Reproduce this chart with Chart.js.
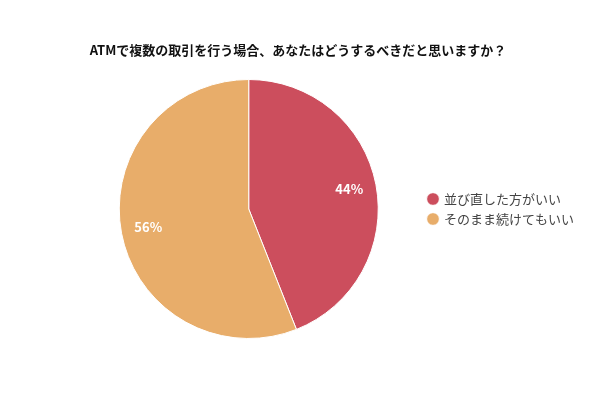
<!DOCTYPE html>
<html><head><meta charset="utf-8">
<script src="https://cdn.jsdelivr.net/npm/chart.js@4"></script>
<style>html,body{margin:0;padding:0;background:#fff}#wrap{width:600px;height:400px}</style>
</head><body><div id="wrap"><canvas id="c" width="600" height="400"></canvas></div>
<script>
const titleText = 'ATMで複数の取引を行う場合、あなたはどうするべきだと思いますか？';
const categories = ['並び直した方がいい', 'そのまま続けてもいい'];
const values = [44, 56];
const colors = ['#CC4E5D', '#E8AD6A'];

const titlePlugin = {
  id: 'canvasTitle',
  afterDraw(chart) {
    const ctx = chart.ctx;
    ctx.save();
    ctx.font = 'bold 13px "Noto Sans CJK JP", sans-serif';
    ctx.fillStyle = '#111111';
    ctx.textAlign = 'center';
    ctx.textBaseline = 'middle';
    ctx.fillText(titleText, chart.width / 2 - 2, 50);
    ctx.restore();
  }
};

const labelPlugin = {
  id: 'pctLabels',
  afterDatasetsDraw(chart) {
    const ctx = chart.ctx;
    const meta = chart.getDatasetMeta(0);
    const total = values.reduce((a, b) => a + b, 0);
    ctx.save();
    ctx.font = 'bold 13px "Noto Sans CJK JP", "Noto Sans", sans-serif';
    ctx.fillStyle = '#ffffff';
    ctx.textAlign = 'center';
    ctx.textBaseline = 'middle';
    meta.data.forEach((arc, i) => {
      const p = arc.getProps(['x','y','startAngle','endAngle','outerRadius'], true);
      const mid = (p.startAngle + p.endAngle) / 2;
      const r = p.outerRadius * 0.79;
      ctx.fillText(Math.round(values[i] / total * 100) + '%', p.x + Math.cos(mid) * r, p.y + Math.sin(mid) * r - 1);
    });
    ctx.restore();
  }
};

new Chart(document.getElementById('c'), {
  type: 'pie',
  data: { labels: categories, datasets: [{ data: values, backgroundColor: colors, borderColor: '#ffffff', borderWidth: 1 }] },
  options: {
    responsive: false, animation: false,
    layout: { padding: { left: 76, right: 16, top: 79, bottom: 61 } },
    plugins: {
      title: { display: false },
      legend: { position: 'right', labels: { usePointStyle: true, pointStyle: 'circle', boxWidth: 9, boxHeight: 9, padding: 7, color: '#444', font: { family: '"Noto Sans CJK JP", sans-serif', size: 13 } } },
      tooltip: { enabled: false }
    }
  },
  plugins: [labelPlugin, titlePlugin]
});
</script></body></html>
